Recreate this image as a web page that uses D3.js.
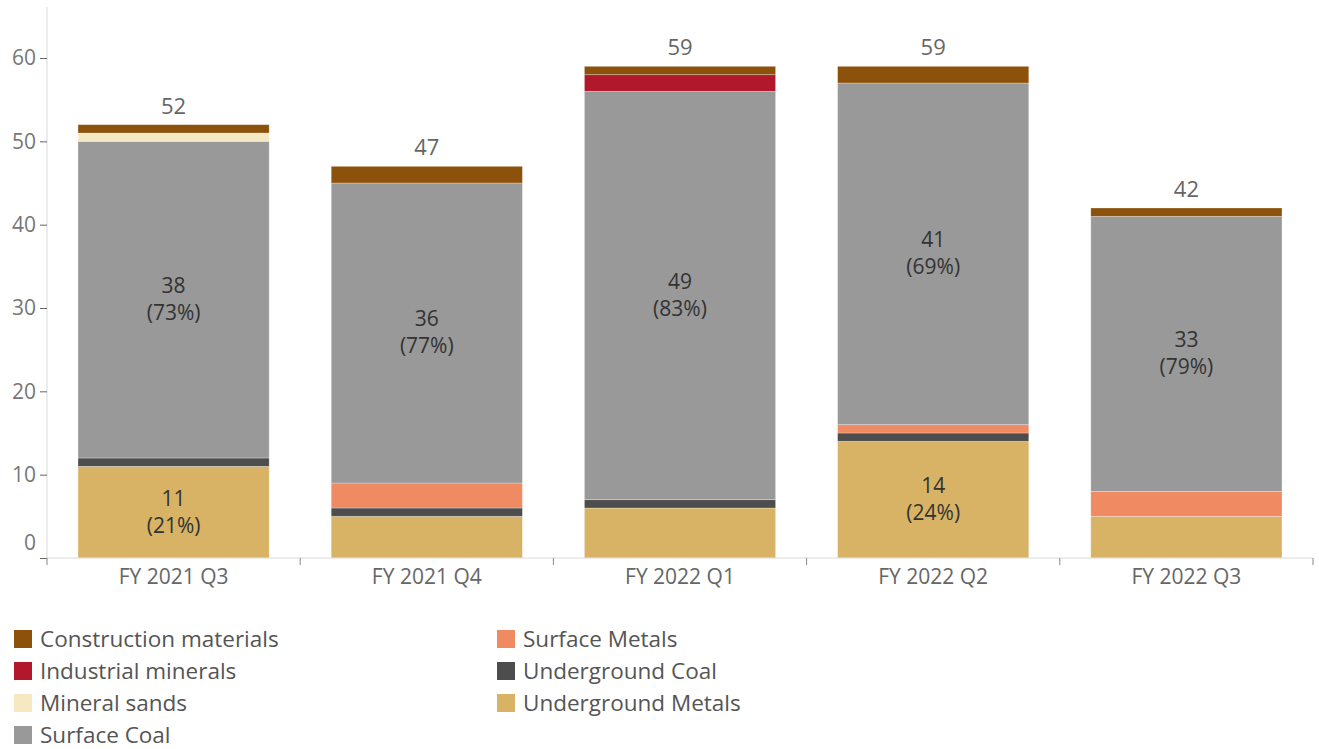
<!DOCTYPE html>
<html><head><meta charset="utf-8">
<script src="https://cdn.jsdelivr.net/npm/d3@7"></script>
<style>
body{margin:0;background:#fff;}
text{font-family:"Open Sans",sans-serif;}
</style></head>
<body>
<svg id="chart" width="1319" height="749"></svg>
<script>
const categories = ["FY 2021 Q3","FY 2021 Q4","FY 2022 Q1","FY 2022 Q2","FY 2022 Q3"];
const seriesNames = ["Underground Metals","Underground Coal","Surface Metals","Surface Coal","Mineral sands","Industrial minerals","Construction materials"];
const undergroundMetals = [11,5,6,14,5];
const undergroundCoal = [1,1,1,1,0];
const surfaceMetals = [0,3,0,1,3];
const surfaceCoal = [38,36,49,41,33];
const mineralSands = [1,0,0,0,0];
const industrialMinerals = [0,0,2,0,0];
const constructionMaterials = [1,2,1,2,1];
const yTicks = [0,10,20,30,40,50,60];
const legendOrder = ["Construction materials","Industrial minerals","Mineral sands","Surface Coal","Surface Metals","Underground Coal","Underground Metals"];
const colors = {
  "Construction materials":"#8c510a",
  "Industrial minerals":"#b2182b",
  "Mineral sands":"#f6e8c3",
  "Surface Coal":"#999999",
  "Surface Metals":"#ef8a62",
  "Underground Coal":"#4d4d4d",
  "Underground Metals":"#d8b365"
};
const seriesValues = [undergroundMetals,undergroundCoal,surfaceMetals,surfaceCoal,mineralSands,industrialMinerals,constructionMaterials];

const rows = categories.map((c,i)=>{
  const r={cat:c};
  seriesNames.forEach((s,j)=>r[s]=seriesValues[j][i]);
  r.total = d3.sum(seriesValues, v=>v[i]);
  return r;
});

const svg = d3.select("#chart");
const pL=47, pR=1313, pT=8, pB=558;
const x = d3.scaleBand().domain(categories).range([pL,pR]).paddingInner(0.245).paddingOuter(0.1225);
const y = d3.scaleLinear().domain([0,66]).range([pB,pT]);

const stack = d3.stack().keys(seriesNames)(rows);

const segs = [];
stack.forEach(s=>s.forEach(p=>{ if(p[1]-p[0]>0) segs.push({key:s.key,p}); }));

svg.append("g").selectAll("rect").data(segs).join("rect")
  .attr("fill", d=>colors[d.key])
  .attr("x", d=>x(d.p.data.cat))
  .attr("width", x.bandwidth())
  .attr("y", d=>y(d.p[1]))
  .attr("height", d=>y(d.p[0])-y(d.p[1]))
  .attr("stroke","#ffffff").attr("stroke-opacity",0.35).attr("stroke-width",0.8);

// inner labels
const labelSeries = ["Surface Coal","Underground Metals"];
segs.filter(s=>labelSeries.includes(s.key)).forEach(s=>{
  const p=s.p, v=p[1]-p[0];
  if(v<10) return;
  const cx = x(p.data.cat)+x.bandwidth()/2;
  const cy = y((p[0]+p[1])/2);
  const g = svg.append("g").attr("fill","#333").attr("font-size",21).attr("text-anchor","middle");
  g.append("text").attr("x",cx).attr("y",cy-14).attr("dy","0.35em").text(v);
  g.append("text").attr("x",cx).attr("y",cy+13).attr("dy","0.35em").text("("+Math.round(v/p.data.total*100)+"%)");
});

// totals
svg.append("g").selectAll("text").data(rows).join("text")
  .attr("x", d=>x(d.cat)+x.bandwidth()/2)
  .attr("y", d=>y(d.total)-11)
  .attr("text-anchor","middle").attr("font-size",22).attr("fill","#666")
  .text(d=>d.total);

// y axis
const yAxis = svg.append("g").attr("transform",`translate(${pL},0)`)
  .call(d3.axisLeft(y).tickValues(yTicks).tickSize(7).tickPadding(4));
yAxis.select(".domain").attr("stroke","#d9d9d9").attr("d",`M0,${pT-1}V${pB}`);
yAxis.selectAll(".tick line").attr("stroke","#666");
yAxis.selectAll(".tick text").attr("font-size",21).attr("fill","#777").attr("font-family","Open Sans, sans-serif")
  .attr("dy", d=> d===0 ? "-0.4em" : "0.32em");

// x axis
const xAxis = svg.append("g").attr("transform",`translate(0,${pB})`)
  .call(d3.axisBottom(x).tickSize(0).tickPadding(11));
xAxis.select(".domain").attr("stroke","#d9d9d9").attr("d",`M${pL},0H${pR}`);
xAxis.selectAll(".tick text").attr("font-size",21).attr("fill","#666").attr("font-family","Open Sans, sans-serif");
const seps = categories.map(c=>x(c)-x.step()*x.paddingInner()/2).concat([pR]);
xAxis.selectAll(".sep").data(seps).join("line").attr("class","sep")
  .attr("x1",d=>d).attr("x2",d=>d).attr("y1",0).attr("y2",7).attr("stroke","#888");

// legend
const lg = svg.append("g");
legendOrder.forEach((name,i)=>{
  const col = i<4?0:1, row = i<4?i:i-4;
  const gx = col===0?14:497, gy = 639+row*32;
  lg.append("rect").attr("x",gx).attr("y",gy-9).attr("width",18).attr("height",18).attr("fill",colors[name]);
  lg.append("text").attr("x",gx+26).attr("y",gy).attr("dy","0.35em").attr("font-size",22.5).attr("fill","#555").text(name);
});
</script>
</body></html>
